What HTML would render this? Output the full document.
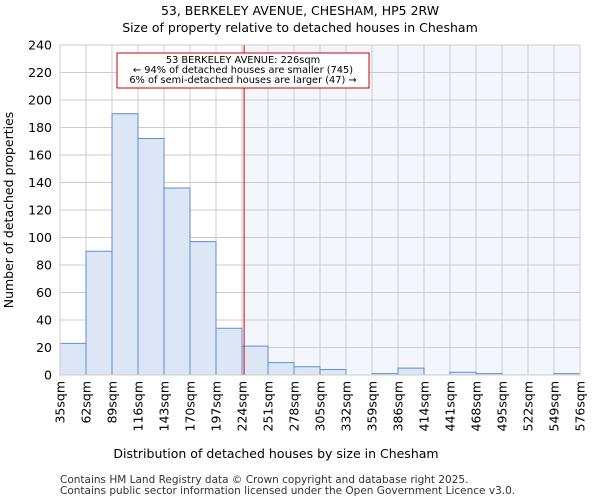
<!DOCTYPE html>
<html><head><meta charset="utf-8"><style>
body{margin:0;background:#fff;font-family:"DejaVu Sans","Liberation Sans",sans-serif}
</style></head><body>
<svg width="600" height="500" xmlns="http://www.w3.org/2000/svg" font-family="DejaVu Sans, Liberation Sans, sans-serif">
<text x="300" y="15" text-anchor="middle" font-size="12.5">53, BERKELEY AVENUE, CHESHAM, HP5 2RW</text>
<text x="300" y="32" text-anchor="middle" font-size="12.5">Size of property relative to detached houses in Chesham</text>
<g id="plot"></g>
<text x="276" y="458" text-anchor="middle" font-size="12.5">Distribution of detached houses by size in Chesham</text>
<text transform="translate(13,210) rotate(-90)" text-anchor="middle" font-size="12.5">Number of detached properties</text>
<text x="60" y="483" font-size="10.5" fill="#333">Contains HM Land Registry data © Crown copyright and database right 2025.</text>
<text x="60" y="494" font-size="10.5" fill="#333">Contains public sector information licensed under the Open Government Licence v3.0.</text>
</svg>
<script>
const binEdges=[35,62,89,116,143,170,197,224,251,278,305,332,359,386,414,441,468,495,522,549,576];
const counts=[23,90,190,172,136,97,34,21,9,6,4,0,1,5,0,2,1,0,0,1];
const yTicks=[0,20,40,60,80,100,120,140,160,180,200,220,240];
const propertySize=226;
const NS="http://www.w3.org/2000/svg";
const L=60,R=580,T=45,B=375;
const xs=i=>L+i*(R-L)/(binEdges.length-1);
const xv=v=>L+(v-binEdges[0])/(binEdges[binEdges.length-1]-binEdges[0])*(R-L);
const y=v=>B-v/240*(B-T);
const g=document.getElementById('plot');
function mk(t,a){const e=document.createElementNS(NS,t);for(const k in a)e.setAttribute(k,a[k]);g.appendChild(e);return e;}
const px=xv(propertySize);
let sh=mk('rect',{x:px,y:T,width:R-px,height:B-T,fill:'#f3f6fd'});


yTicks.forEach(v=>{
 let l=mk('line',{x1:L,x2:R,y1:y(v),y2:y(v),stroke:'#cccccc'});
 
 
 let t=mk('text',{x:L-8,y:y(v)+4.5,'text-anchor':'end','font-size':'12.5'});t.textContent=v;
 
 
});
binEdges.forEach((v,i)=>{
 let l=mk('line',{x1:xs(i),x2:xs(i),y1:T,y2:B,stroke:'#cccccc'});
 
 
 let t=mk('text',{transform:`translate(${xs(i)+4.5},${B+6}) rotate(-90)`,'text-anchor':'end','font-size':'12.5'});t.textContent=v+'sqm';
 
 
});
counts.forEach((c,i)=>{
 let r=mk('rect',{x:xs(i),y:y(c),width:xs(i+1)-xs(i),height:B-y(c),fill:'#dce6f4',stroke:'#5b8fd6','stroke-width':1});
 
 
});
let ln=mk('line',{x1:px+0.5,x2:px+0.5,y1:T,y2:B,stroke:'#dd0000','stroke-width':1});


let bx=mk('rect',{x:117,y:53,width:252,height:35,fill:'#fff',stroke:'#cc0000'});


['53 BERKELEY AVENUE: 226sqm','← 94% of detached houses are smaller (745)','6% of semi-detached houses are larger (47) →'].forEach((s,i)=>{
 let t=mk('text',{x:243,y:63+i*10,'text-anchor':'middle','font-size':'9.8'});t.textContent=s;
 
 
});
let ax=mk('rect',{x:L,y:T,width:R-L,height:B-T,fill:'none',stroke:'#cccccc'});


</script>
</body></html>
